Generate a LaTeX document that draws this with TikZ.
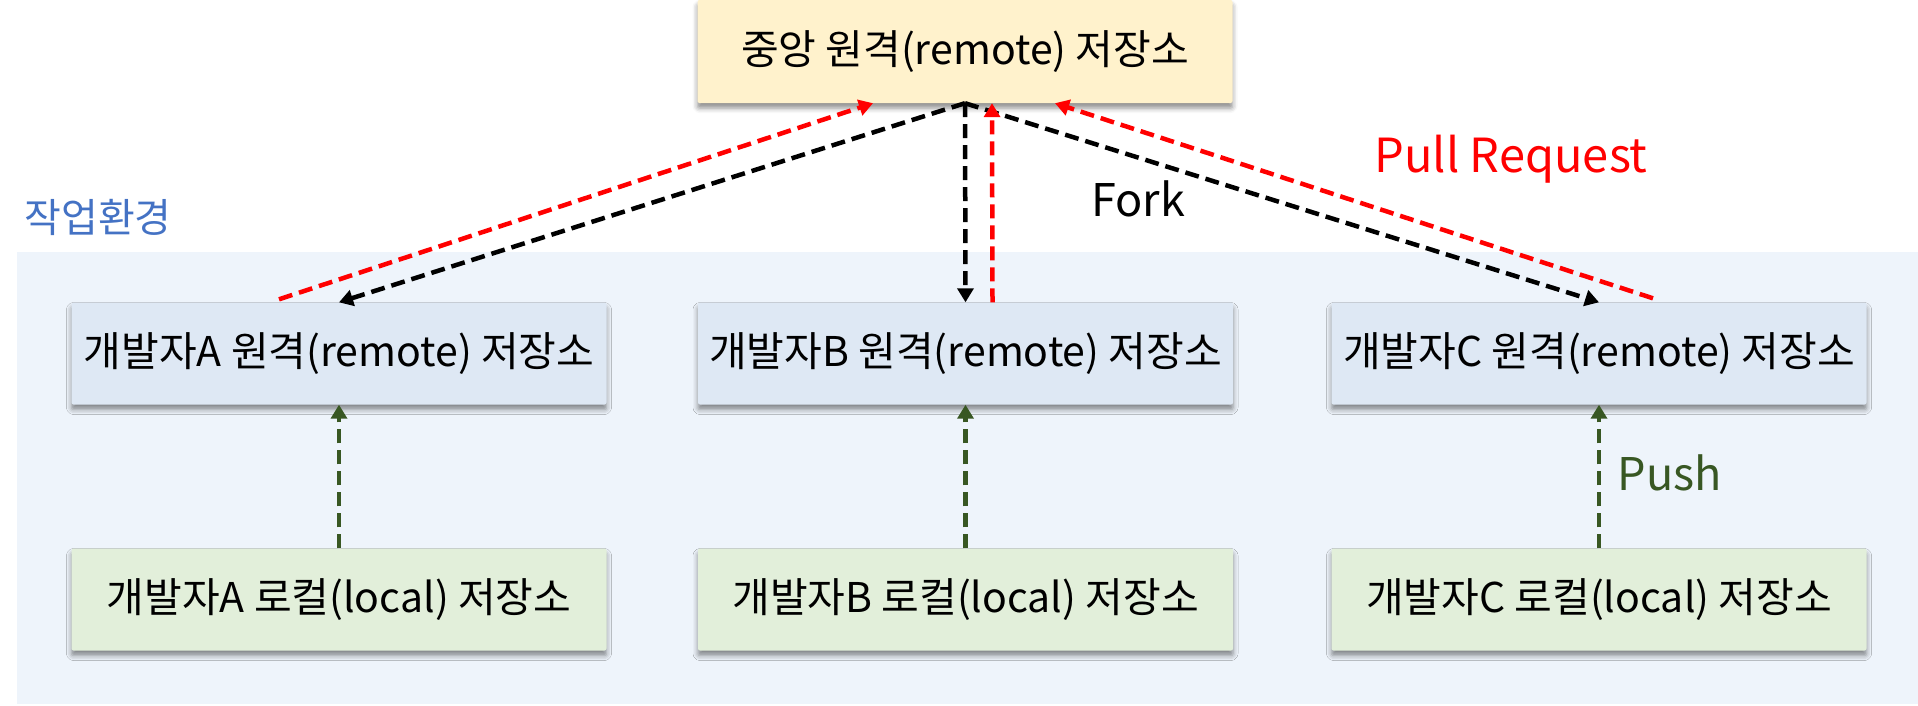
\documentclass[tikz,border=0pt]{standalone}
\usepackage{fontspec}
\setmainfont{Noto Sans CJK KR}
\usetikzlibrary{arrows.meta,shadows.blur}
\definecolor{topfill}{HTML}{FFF2CC}
\definecolor{remfill}{HTML}{DEE8F4}
\definecolor{locfill}{HTML}{E2EFDA}
\definecolor{bgfill}{HTML}{EEF4FB}
\definecolor{envblue}{HTML}{4472C4}
\definecolor{pushgreen}{HTML}{385723}
\definecolor{prred}{HTML}{FF0000}
\begin{document}
\begin{tikzpicture}[x=1pt,y=-1pt,
  box/.style={minimum width=535pt, minimum height=102pt, inner sep=0pt,
    rounded corners=2pt,
    blur shadow={shadow xshift=0pt, shadow yshift=-5pt, shadow blur radius=5pt, shadow opacity=45},
    font=\fontsize{41}{49}\selectfont},
  topbox/.style={box, fill=topfill},
  rembox/.style={box, fill=remfill},
  locbox/.style={box, fill=locfill},
  lbl/.style={inner sep=0pt},
  conn/.style={line width=4.5pt, dash pattern=on 14pt off 7pt,
    -{Triangle[length=14pt,width=16pt]}},
  fork/.style={conn, draw=black},
  pr/.style={conn, draw=prred},
  push/.style={conn, draw=pushgreen}]
\useasboundingbox (0,0) rectangle (1918,705);
\fill[bgfill] (17,252) rectangle (1918,704);

\node[lbl, text=envblue, font=\fontsize{40}{48}\selectfont] (env) at (98,217) {작업환경};

\node[topbox, minimum height=103pt] (top) at (965,51.5) {중앙 원격(remote) 저장소};

\node[rembox] (Ar) at (339,353.5) {개발자A 원격(remote) 저장소};
\node[rembox] (Br) at (965.5,353.5) {개발자B 원격(remote) 저장소};
\node[rembox] (Cr) at (1599,353.5) {개발자C 원격(remote) 저장소};

\node[locbox] (Al) at (339,599.5) {개발자A 로컬(local) 저장소};
\node[locbox] (Bl) at (965.5,599.5) {개발자B 로컬(local) 저장소};
\node[locbox] (Cl) at (1599,599.5) {개발자C 로컬(local) 저장소};

% Fork
\draw[fork] (top.south) -- (Ar.north);
\draw[fork] (top.south) -- (Br.north);
\draw[fork] (top.south) -- (Cr.north);

% Pull request
\draw[pr] ([xshift=-60pt,yshift=3pt]Ar.north) -- ([xshift=-92pt]top.south);
\draw[pr] ([xshift=27pt]Br.north) -- ([xshift=27pt]top.south);
\draw[pr] ([xshift=54pt,yshift=4pt]Cr.north) -- ([xshift=90pt]top.south);

% Push
\draw[push] (Al.north) -- (Ar.south);
\draw[push] (Bl.north) -- (Br.south);
\draw[push] (Cl.north) -- (Cr.south);

\node[lbl, font=\fontsize{45}{52}\selectfont] (forklbl) at (1138,199) {Fork};
\node[lbl, text=prred, font=\fontsize{47}{54}\selectfont] (prlbl) at (1511,159) {Pull Request};
\node[lbl, text=pushgreen, font=\fontsize{45}{52}\selectfont] (pushlbl) at (1670,473) {Push};
\end{tikzpicture}
\end{document}
